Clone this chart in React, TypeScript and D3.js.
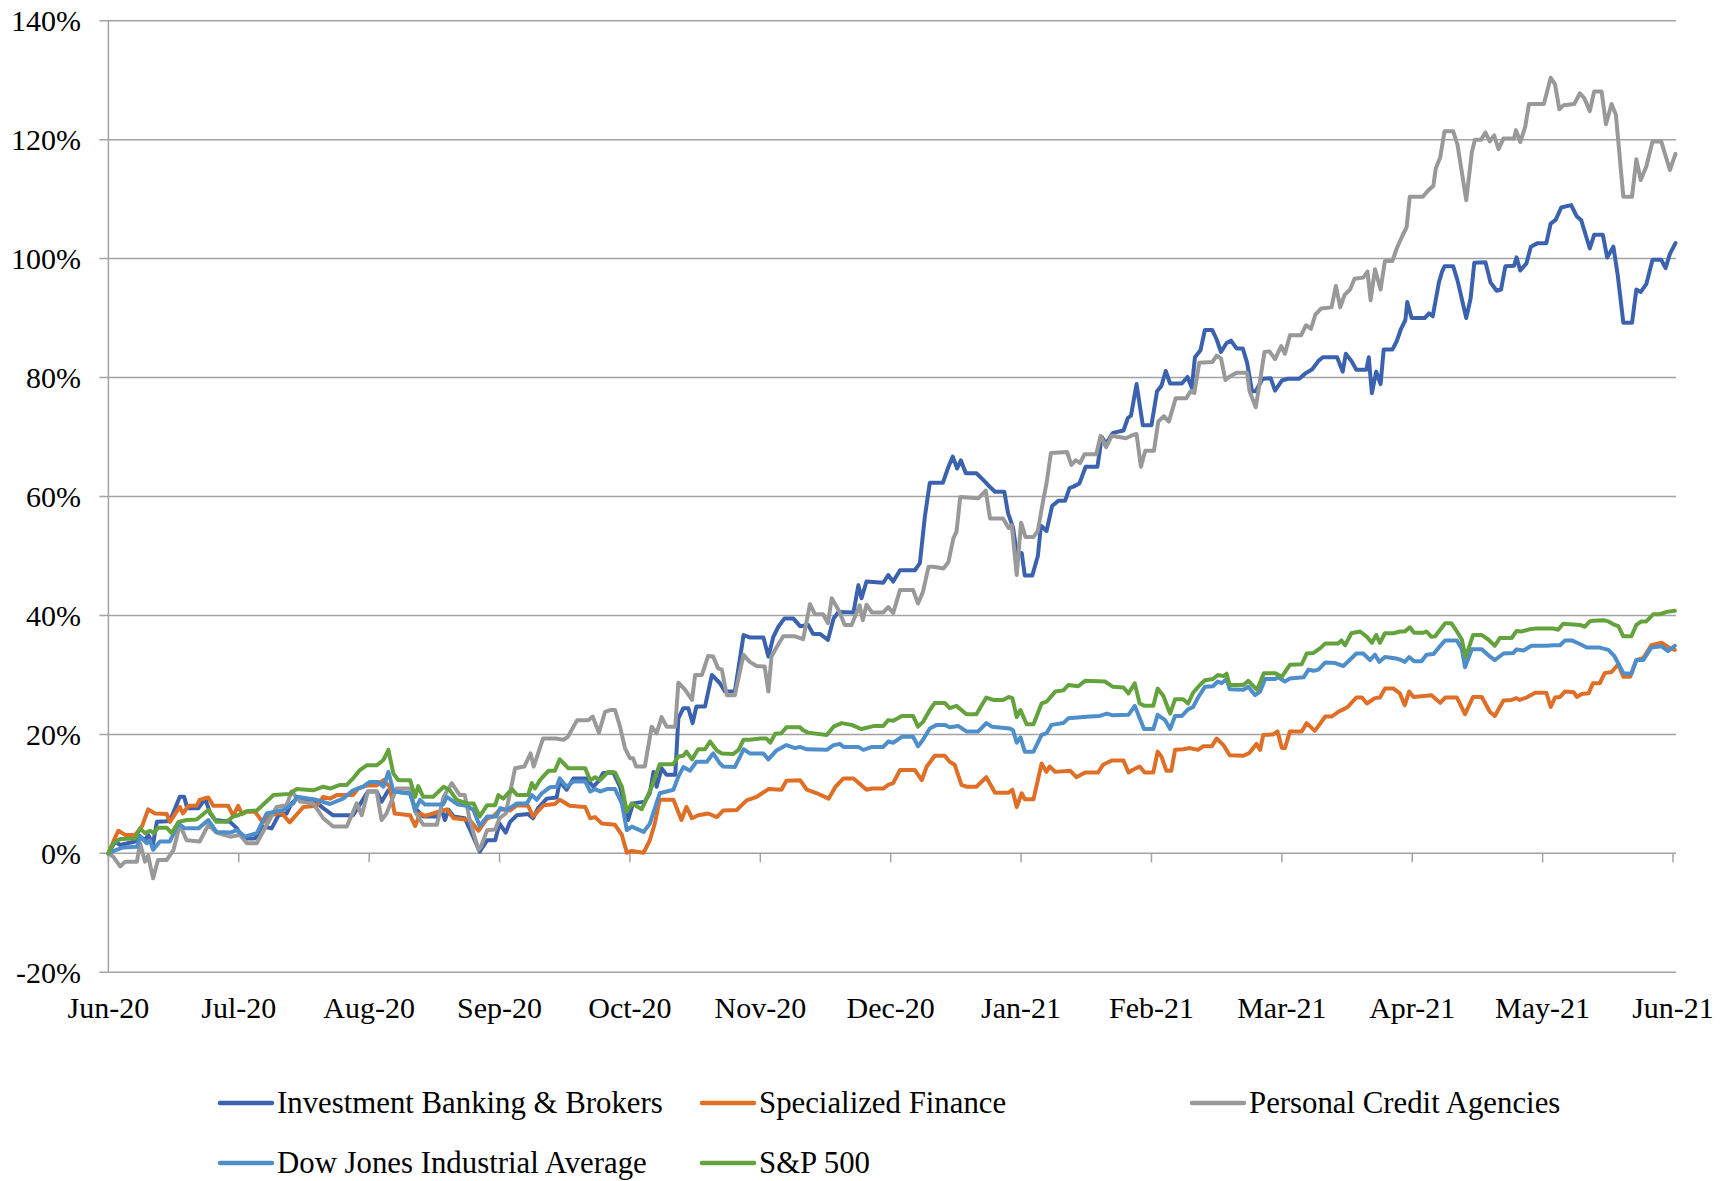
import React from 'react';
import * as d3 from 'd3';

type Pt = [number, number];

// x: trading day since 1-Jun-2020 (252 trading days to 1-Jun-2021), y: cumulative return in %
const monthLabels = ['Jun-20', 'Jul-20', 'Aug-20', 'Sep-20', 'Oct-20', 'Nov-20', 'Dec-20', 'Jan-21', 'Feb-21', 'Mar-21', 'Apr-21', 'May-21', 'Jun-21'];
const yTicks = [-20, 0, 20, 40, 60, 80, 100, 120, 140];
const TOTAL_DAYS = 252;

const investmentBanking: Pt[] = [
  [0,0],[1.1,2.0],[1.9,1.4],[4.3,2.0],[4.8,3.1],[5.9,2.2],[6.4,3.1],[7.2,1.6],[7.8,5.3],[9.4,5.4],[10.2,6.2],[11.5,9.5],[12.2,9.5],[12.7,7.6],[14.5,7.6],[15.6,9.2],[16.4,6.7],[17.2,5.6],[19.6,5.3],[20.7,4.2],[21.5,2.8],[22.3,2.5],[23.6,2.5],[24.9,4.5],[26.3,4.2],[27.4,6.4],[28.7,6.7],[29.5,8.4],[30.3,9.2],[33.0,9.0],[34.6,7.6],[36.2,6.4],[39.4,6.4],[40.8,8.7],[41.8,10.4],[43.2,10.4],[44.0,8.7],[45.1,10.6],[46.1,10.4],[48.6,10.1],[49.4,7.6],[50.7,6.2],[53.1,6.2],[53.7,7.3],[54.2,5.6],[54.8,7.3],[55.6,6.2],[57.4,5.9],[58.5,3.4],[59.8,0.3],
  [61.0,2.2],[62.3,2.2],[63.0,5.0],[64.0,3.5],[64.7,5.3],[65.8,6.4],[67.6,6.6],[68.4,5.9],[69.2,7.6],[70.6,9.2],[72.2,9.4],[72.7,12.1],[73.8,10.7],[74.9,12.6],[77.0,12.6],[78.1,11.2],[78.9,12.1],[79.7,13.5],[81.3,13.6],[82.4,11.2],[83.7,5.6],[84.5,8.4],[86.4,8.7],[87.2,10.1],[87.8,13.7],[88.3,11.2],[89.1,14.3],[89.9,13.2],[91.3,13.2],[91.8,22.7],[92.6,24.4],[93.4,24.4],[94.1,21.9],[94.7,24.7],[96.1,24.7],[97.2,30.0],[98.5,28.6],[99.3,27.2],[100.9,27.2],[102.3,36.7],[103.3,36.3],[105.5,36.3],[106.3,33.1],[107.1,36.4],[107.9,38.1],[108.9,39.5],[110.3,39.5],[111.4,38.2],[112.7,38.4],[113.5,36.9],[114.6,36.9],[115.9,35.9],[116.8,39.5],[117.6,40.6],[120.0,40.5],[120.8,45.1],[121.3,42.9],[122.1,45.7],[124.8,45.5],[125.6,46.8],[126.4,45.7],[127.5,47.6],
  [129.9,47.6],[130.7,48.8],[131.5,56.6],[132.3,62.3],[134.4,62.3],[135.3,65.0],[136.0,66.7],[136.7,64.7],[137.3,66.1],[138.1,63.9],[139.8,63.9],[140.9,62.8],[141.7,61.9],[142.8,60.8],[144.3,60.8],
  [144.9,57.2],[145.7,54.8],[146.3,50.5],[147.1,50.5],[147.6,46.7],[148.8,46.7],[149.7,50.0],[150.2,55.1],[151.1,54.2],[152.0,58.4],[153.0,59.3],[154.1,59.3],[154.8,61.4],[155.5,61.7],[156.4,62.2],[157.4,65.0],[159.3,65.0],[160.0,70.0],[160.7,68.9],[161.8,70.7],[163.5,71.1],[164.2,73.2],[164.7,73.6],[165.6,78.9],[166.6,72.0],[168.0,72.0],[168.9,77.7],[169.6,78.6],[170.3,81.1],[171.0,79.0],[172.9,79.0],[173.8,80.1],[174.5,78.3],[175.0,83.4],[175.9,84.6],[176.6,88.0],[177.8,88.0],[178.5,86.4],[179.2,84.3],[180.1,85.8],[180.8,86.2],[181.7,84.9],[182.7,84.9],[183.4,82.5],[184.2,77.7],[184.8,77.7],[185.9,79.8],[187.2,79.9],[187.9,77.8],[189.0,79.5],[190.0,79.8],[191.8,79.8],[192.8,80.7],[193.9,81.4],[194.9,82.8],[195.6,83.4],[197.9,83.4],[198.8,81.0],[199.3,84.0],[200.2,82.8],[201.0,81.3],[202.6,81.3],[203.0,83.4],[203.5,77.4],[204.2,81.0],[204.9,78.9],[205.4,84.7],[206.8,84.7],[207.5,86.1],[208.2,88.2],[208.9,89.7],[209.2,92.7],[209.9,90.0],[212.0,90.0],[212.7,90.8],[213.3,90.3],[214.3,96.0],[214.8,97.8],[215.2,98.7],[216.6,98.7],[217.3,96.3],[218.7,90.0],[219.4,93.3],[220.0,99.3],[221.8,99.4],[222.6,96.0],[223.6,94.6],[224.3,94.8],[225.0,98.7],[226.4,98.8],[226.8,100.2],[227.4,98.0],[228.4,99.2],[229.1,102.0],[230.2,102.6],[231.6,102.6],[232.3,105.9],[233.1,106.5],[234.0,108.6],[235.6,109.0],[236.5,107.1],[237.2,106.5],[238.6,101.7],[239.3,104.0],[240.7,104.0],[241.4,100.2],[242.4,102.0],[243.1,97.2],[244.0,89.2],[245.4,89.2],[246.1,94.8],[246.8,94.4],[247.7,95.7],[248.7,99.8],[250.1,99.8],[250.8,98.4],[251.5,100.8],[252.4,102.6],
];

const specializedFinance: Pt[] = [
  [0,0],[0.8,2.0],[1.6,3.8],[2.7,3.1],[4.3,3.1],[5.4,4.5],[6.4,7.4],[7.5,6.7],[9.4,6.6],[9.9,5.3],[11.5,7.8],[12.0,6.7],[12.9,8.0],[14.2,8.0],[14.7,9.0],[16.1,9.4],[16.9,8.0],[19.3,8.0],[20.1,6.3],[20.9,8.0],[21.5,6.6],[22.3,7.0],[23.6,7.0],[24.9,5.2],[26.0,6.4],[27.9,6.8],[29.2,5.2],[31.4,7.8],[33.5,8.0],[34.6,9.5],[35.7,9.2],[36.8,9.8],[39.4,9.8],[40.2,10.9],[41.6,11.4],[43.2,11.4],[44.3,12.3],[45.3,11.2],[46.1,6.7],[48.6,6.4],[49.4,4.6],[50.2,6.7],[51.0,6.3],[52.3,6.7],[54.5,7.4],[55.6,5.9],[58.2,5.6],[59.6,3.8],
  [61.0,5.9],[62.0,6.2],[63.1,7.4],[64.7,7.2],[65.8,8.1],[67.6,8.0],[68.4,6.2],[70.1,8.1],[71.9,8.3],[72.7,9.0],[74.3,8.0],[76.8,7.8],[77.6,5.9],[78.4,6.1],[79.5,5.0],[81.6,4.8],[82.7,3.1],[83.5,0.1],[84.3,0.4],[86.2,0.1],[87.2,2.2],[88.0,5.0],[88.8,9.0],[91.0,9.0],[92.3,5.6],[93.1,7.8],[94.0,5.9],[95.0,6.4],[96.6,6.7],[98.0,6.1],[99.0,7.2],[101.2,7.3],[102.8,8.9],[104.4,9.5],[106.3,10.8],[108.4,10.7],[109.2,12.2],[111.4,12.3],[112.5,10.7],[114.1,10.1],[116.0,9.2],[117.1,11.2],[118.4,12.6],[120.0,12.6],[121.0,11.7],
  [122.1,10.7],[123.0,10.9],[124.8,10.9],[125.6,11.5],[126.4,11.8],[127.5,14.0],[129.9,14.0],[131.0,12.3],[131.8,14.6],[133.1,16.4],[134.7,16.4],[135.5,15.4],[136.3,14.9],[137.4,11.5],[138.2,11.2],[139.8,11.2],[141.4,12.8],[142.8,10.2],[145.0,10.2],[145.6,10.7],[146.3,7.8],[147.1,10.1],[147.6,9.1],[149.0,9.1],[150.3,15.1],[151.1,13.7],[151.6,14.6],[152.5,13.7],[154.9,13.9],[155.9,12.8],[157.3,13.6],[159.4,13.6],[160.2,14.9],[161.6,15.6],[163.5,15.6],[164.3,13.6],[165.1,14.1],[166.1,14.6],[166.9,13.6],[168.3,13.6],[169.0,17.1],[169.6,16.3],[170.4,13.9],[171.2,13.9],[171.8,17.4],[173.1,17.5],[174.2,17.7],[175.5,17.4],[176.3,18.0],[177.7,18.0],[178.5,19.3],[179.6,18.2],[180.6,16.5],[182.8,16.4],[183.8,16.9],[184.9,18.4],[185.5,17.4],
  [186.0,19.9],[187.6,20.0],[188.3,20.5],[189.0,17.7],[189.5,17.7],[190.3,20.5],[192.2,20.5],[193.0,21.9],[194.3,20.6],[196.0,23.0],[197.0,23.0],[198.1,23.8],[198.9,24.2],[199.7,24.7],[201.0,26.2],[201.9,26.2],[202.7,25.2],[204.0,26.1],[204.8,26.2],[205.6,27.7],[207.0,27.7],[208.0,26.9],[208.8,24.9],[209.5,27.2],[210.2,26.3],[212.3,26.5],[213.1,26.6],[214.5,25.3],[215.3,26.2],[217.2,26.2],[218.5,23.4],[219.8,26.3],[221.2,26.3],[222.5,23.8],[223.3,23.1],[224.7,25.7],[226.0,25.8],[226.8,26.1],[227.3,25.8],[228.4,26.2],[229.8,27.0],[231.6,27.0],[232.3,24.6],[233.0,26.2],[233.8,26.3],[234.6,27.2],[236.0,27.1],[236.5,26.3],[237.3,26.8],[238.4,26.9],[239.1,28.6],[240.2,28.6],[241.0,30.3],[242.1,30.5],[243.2,31.8],[244.0,29.7],[245.1,29.7],[246.1,32.5],[247.2,32.8],[248.5,35.0],[250.2,35.4],[251.5,34.5],[252.3,34.2],
];

const personalCredit: Pt[] = [
  [0,0],[0.8,-0.6],[1.9,-2.2],[2.7,-1.4],[4.6,-1.4],[5.1,1.7],[5.9,-1.4],[6.4,-0.4],[7.2,-4.2],[8.0,-1.1],[9.4,-1.1],[10.5,0.6],[11.5,4.8],[12.6,2.2],[14.7,2.0],[16.1,4.8],[17.4,3.5],[19.6,2.8],[21.2,3.1],[22.3,1.7],[23.9,1.7],[25.5,4.8],[27.1,7.8],[28.7,8.1],[29.5,10.4],[30.9,8.7],[33.0,8.4],[34.6,5.9],[36.2,4.5],[38.4,4.5],[40.0,8.4],[40.8,6.4],[41.8,10.4],[43.2,10.4],[44.0,5.6],[44.8,6.7],[46.4,10.9],[48.6,10.9],[49.4,7.0],[50.7,4.8],[52.9,4.8],[54.0,9.5],[55.3,11.8],[56.6,9.8],[57.4,9.8],[58.2,5.6],[59.6,0.6],
  [60.0,1.1],[61.0,3.9],[62.3,4.0],[63.0,5.9],[64.0,6.7],[65.5,14.3],[67.0,14.6],[68.0,16.8],[68.5,14.6],[70.0,19.3],[72.0,19.3],[73.3,19.1],[74.0,19.6],[75.5,22.4],[77.3,22.4],[78.0,23.0],[79.0,20.3],[80.0,23.8],[80.8,24.1],[81.6,24.1],[82.4,21.3],[83.2,17.7],[84.0,16.0],[84.5,16.0],[85.0,14.6],[86.4,14.6],[87.5,21.3],[88.3,20.2],[89.1,22.9],[89.9,21.3],[91.3,21.3],[91.8,28.7],[92.9,27.5],[94.0,25.8],[94.5,30.0],[95.6,30.0],[96.6,33.2],[97.4,33.1],[98.2,31.1],[98.8,30.9],[99.6,26.6],[100.9,26.6],[102.3,33.4],[103.3,32.2],[104.4,31.5],[105.7,31.4],[106.3,27.2],[106.8,33.1],[107.6,34.6],[108.7,36.5],[110.6,36.5],[111.9,36.0],[113.0,41.9],[113.8,40.2],[115.1,40.2],[115.9,38.7],[116.5,42.9],[117.6,40.9],[118.6,38.4],[119.7,38.4],[121.0,41.7],[121.5,39.2],[122.1,41.8],[123.0,40.5],[124.8,40.5],[125.6,41.4],[126.4,40.4],[127.5,44.3],
  [129.6,44.3],[130.4,42.0],[131.2,44.0],[132.1,48.2],[132.9,48.2],[134.5,47.9],[135.3,49.0],[136.1,53.0],[136.6,54.1],[137.2,59.9],[140.1,59.7],[141.3,61.0],[142.0,56.3],[144.1,56.3],[145.0,54.7],[145.5,55.2],[146.3,46.8],[147.0,55.6],[147.7,53.2],[149.0,53.2],[149.7,54.2],[150.6,59.6],[151.1,62.2],[151.8,67.3],[154.4,67.5],[155.1,65.3],[155.8,66.1],[156.5,65.6],[157.2,67.1],[159.1,67.1],[159.8,70.2],[160.7,68.3],[161.6,70.2],[163.9,69.8],[164.9,70.3],[165.6,70.5],[166.3,65.0],[167.0,67.7],[168.4,67.7],[169.1,72.6],[170.0,73.5],[170.8,72.6],[171.9,76.5],[173.6,76.5],[174.3,77.7],[174.9,77.4],[175.7,82.5],[177.8,82.6],[178.5,83.7],[179.2,83.2],[179.9,79.6],[180.5,80.1],[181.7,80.8],[183.4,80.8],[183.8,77.7],[184.8,75.0],[185.4,78.9],[186.2,84.3],[187.0,84.4],[187.9,83.1],[188.9,85.3],[189.5,84.0],[190.3,87.1],[192.1,87.1],[192.9,88.8],[193.7,88.2],[194.4,90.6],[195.3,91.6],[197.0,91.8],[197.7,95.4],[198.4,91.8],[199.1,93.9],[200.0,94.8],[200.7,96.6],[202.1,96.8],[202.8,97.8],[203.3,93.0],[204.0,98.2],[204.9,94.8],[205.6,99.6],[206.8,99.6],[207.5,101.7],[208.4,103.8],[209.1,105.3],[209.6,110.4],[211.7,110.4],[212.7,111.6],[213.4,112.2],[213.8,115.2],[214.5,117.0],[215.2,121.4],[216.6,121.4],[217.3,119.1],[218.7,109.8],[219.6,117.9],[220.1,120.0],[221.1,120.0],[221.8,121.2],[222.5,119.7],[223.2,120.7],[223.9,118.4],[224.7,120.2],[226.4,120.2],[226.7,121.6],[227.4,119.6],[228.2,122.2],[228.8,126.0],[231.2,126.0],[232.3,130.4],[233.0,129.3],[233.7,125.1],[234.4,125.8],[236.1,126.0],[237.0,127.8],[237.7,127.0],[238.6,124.8],[239.3,128.1],[240.5,128.1],[241.2,122.6],[242.1,126.0],[242.8,124.2],[244.0,110.4],[245.4,110.4],[246.1,116.7],[246.8,113.2],[247.7,115.5],[248.7,119.7],[250.1,119.7],[251.5,114.9],[252.4,117.6],
];

const dowJones: Pt[] = [
  [0,0],[1.3,0.6],[2.4,1.0],[4.6,1.1],[5.1,2.8],[6.2,1.7],[6.7,2.2],[7.2,0.6],[8.3,2.0],[9.9,2.0],[11.3,5.0],[12.3,4.2],[14.5,4.2],[16.1,5.6],[17.4,3.6],[19.6,3.5],[20.7,3.9],[22.0,2.8],[23.9,3.4],[25.5,6.7],[28.2,7.3],[29.8,8.4],[30.3,9.5],[33.5,9.0],[35.7,8.3],[37.8,9.2],[39.4,10.6],[41.0,11.2],[42.1,12.0],[43.5,12.0],[44.3,11.2],[45.1,13.7],[45.9,10.4],[48.6,10.0],[49.4,7.3],[50.2,9.0],[51.0,8.2],[53.9,8.2],[54.5,9.5],[56.3,8.2],[57.7,8.0],[58.8,7.3],[59.8,4.6],
  [61.0,6.2],[62.5,6.2],[63.1,7.6],[64.2,7.3],[65.8,8.4],[67.4,8.4],[68.2,9.8],[69.0,9.0],[69.8,10.1],[71.1,11.1],[72.2,11.2],[72.7,12.6],[73.8,11.2],[74.9,12.1],[76.8,12.1],[77.6,10.4],[78.4,10.8],[79.2,10.4],[80.3,10.8],[81.6,10.8],[82.7,8.4],[83.5,3.9],[84.3,4.5],[86.2,3.6],[87.2,5.0],[88.8,10.1],[91.0,10.7],[91.8,12.9],[92.6,14.5],[93.7,13.9],[94.7,15.4],[96.4,15.4],[97.4,16.8],[98.5,15.1],[99.0,14.6],[100.9,14.5],[102.3,17.5],[103.3,16.8],[105.5,16.8],[106.3,15.8],[107.6,17.3],[109.2,18.2],[110.6,17.7],[111.4,17.9],[112.5,17.5],[115.7,17.4],[116.8,18.2],[117.8,18.4],[118.4,17.9],[120.8,17.9],[121.6,17.4],
  [123.0,17.9],[124.8,17.9],[125.6,18.8],[126.4,18.6],[127.8,19.6],[129.6,19.6],[130.4,18.0],[131.2,19.1],[132.3,21.0],[133.4,21.6],[134.7,21.6],[135.5,21.2],[136.9,21.4],[138.2,20.5],[140.1,20.5],[141.4,21.9],[142.3,21.3],[145.2,21.0],[145.7,20.7],[146.3,18.6],[146.9,19.5],[147.6,17.1],[149.0,17.1],[150.3,19.9],[151.1,20.2],[151.9,21.6],[153.8,21.9],[154.6,22.7],[158.1,23.0],[159.7,23.1],[160.8,23.5],[161.8,23.2],[164.3,23.3],[165.3,24.8],[166.8,20.9],[168.3,20.9],[169.0,23.3],[170.2,22.4],[171.0,20.9],[171.8,23.1],[172.9,23.1],[173.9,24.2],[174.7,24.6],[175.5,26.2],[176.6,28.0],[177.9,28.1],[178.7,28.9],[179.3,28.6],[180.1,29.3],[180.6,27.6],[182.8,27.5],[183.6,28.0],[184.7,26.6],[185.5,27.2],
  [186.3,29.3],[187.9,29.3],[188.4,29.6],[189.5,28.9],[190.3,29.4],[192.5,29.6],[193.3,30.9],[194.1,30.7],[194.9,30.9],[196.0,32.1],[197.6,32.0],[198.9,31.5],[200.0,32.6],[201.0,33.6],[202.1,33.6],[203.2,32.5],[204.0,33.4],[204.7,32.2],[205.6,33.0],[207.2,32.8],[208.0,32.6],[208.8,32.2],[209.5,33.0],[210.3,32.3],[211.5,32.3],[212.3,33.4],[213.4,33.5],[214.2,34.5],[215.3,35.8],[217.2,35.8],[218.0,34.3],[218.5,31.3],[219.6,34.3],[221.2,34.3],[222.5,33.1],[223.3,32.5],[224.7,33.6],[226.3,33.7],[226.8,34.3],[227.9,34.1],[229.2,34.9],[231.6,34.9],[232.7,35.0],[233.8,35.0],[234.6,35.8],[235.7,35.8],[237.0,35.2],[238.1,34.6],[240.2,34.6],[241.6,34.2],[242.6,33.1],[244.0,30.3],[245.3,30.2],[246.1,32.5],[247.2,32.5],[248.5,34.6],[250.2,34.8],[251.2,34.0],[252.3,34.9],
];

const sp500: Pt[] = [
  [0,0],[0.8,1.7],[1.9,2.4],[4.3,2.5],[5.1,4.2],[5.9,3.4],[6.7,3.8],[7.3,3.4],[8.0,4.3],[9.4,4.3],[10.2,3.4],[11.3,5.3],[12.6,5.6],[14.2,5.7],[16.1,7.3],[17.4,5.3],[19.0,5.3],[20.1,6.2],[20.9,6.4],[22.3,7.1],[23.9,7.2],[26.6,9.8],[29.2,10.0],[30.3,10.8],[33.0,10.6],[34.6,11.2],[35.7,10.9],[37.3,11.5],[38.4,11.5],[39.4,12.6],[40.5,14.0],[41.6,14.8],[43.2,14.8],[44.3,15.7],[45.1,17.4],[45.9,13.4],[46.7,12.3],[48.6,12.3],[49.4,9.5],[49.9,11.3],[50.7,9.5],[52.3,9.5],[54.0,11.2],[55.0,10.6],[56.1,9.0],[57.7,8.4],[58.8,8.4],[59.8,6.2],
  [61.0,8.1],[62.3,8.1],[62.8,9.8],[63.6,9.2],[65.0,10.8],[65.8,9.8],[67.6,9.8],[68.2,11.8],[68.7,10.9],[69.5,12.3],[70.9,13.9],[71.9,13.9],[72.7,15.8],[74.1,14.3],[76.8,14.3],[77.6,12.3],[78.4,12.8],[79.2,12.3],[80.5,13.7],[81.6,13.6],[82.7,11.2],[83.5,7.0],[84.3,8.4],[85.9,7.4],[87.5,11.2],[88.8,15.0],[91.0,15.0],[91.8,16.3],[92.6,16.4],[93.1,17.1],[94.0,15.8],[95.0,17.5],[96.1,17.5],[96.9,18.8],[98.0,17.3],[98.8,16.8],[100.6,16.7],[101.5,17.4],[102.3,19.1],[103.3,19.1],[105.0,19.3],[106.0,19.3],[106.6,18.6],[107.4,20.1],[108.4,20.2],[109.2,21.2],[111.4,21.2],[111.9,20.7],[112.7,20.3],[115.7,19.9],[116.8,21.3],[118.1,21.9],[119.7,21.6],[121.3,20.9],
  [123.2,21.4],[124.8,21.4],[125.6,22.4],[126.4,22.3],[127.8,23.1],[129.6,23.1],[130.4,21.3],[131.2,22.1],[132.3,24.1],[133.1,25.3],[134.7,25.3],[135.5,24.4],[136.6,24.8],[138.2,23.4],[139.8,23.4],[141.4,26.2],[142.5,25.8],[144.1,25.8],[145.0,26.3],[145.6,26.1],[146.3,22.9],[146.9,24.1],[147.9,21.7],[149.0,21.7],[150.3,25.2],[151.1,25.5],[152.5,27.2],[153.8,27.4],[154.6,28.3],[156.2,28.1],[157.3,29.0],[160.5,28.9],[161.8,28.0],[163.5,27.9],[164.3,26.9],[165.3,28.6],[166.1,25.2],[166.9,24.8],[168.3,24.8],[169.0,27.7],[169.9,26.5],[171.0,23.5],[171.8,25.9],[173.1,25.9],[173.9,25.2],[174.7,27.0],[175.8,28.3],[176.6,29.1],[177.9,29.3],[178.7,30.0],[179.6,29.8],[180.1,30.2],[180.6,28.3],[182.8,28.3],[183.6,29.0],[185.0,27.5],
  [186.1,30.3],[187.9,30.3],[189.0,29.7],[190.3,31.7],[192.2,31.8],[193.0,33.6],[194.1,33.7],[195.2,34.5],[196.0,35.3],[198.1,35.3],[198.6,35.8],[199.2,35.0],[200.2,37.0],[201.6,37.3],[202.7,36.4],[203.5,35.4],[204.2,36.7],[204.8,35.4],[205.6,37.0],[207.0,37.0],[208.0,37.3],[208.8,37.3],[209.6,38.0],[210.3,37.1],[211.8,37.1],[212.3,37.3],[213.1,36.4],[213.7,36.5],[214.5,37.6],[215.3,38.7],[216.3,38.7],[217.2,37.3],[218.0,35.9],[218.6,33.0],[219.8,36.7],[221.2,36.7],[222.2,36.0],[223.3,34.9],[224.1,36.2],[226.0,36.2],[226.8,37.4],[227.6,37.3],[229.0,37.7],[230.0,37.8],[232.7,37.8],[233.5,37.6],[234.3,38.6],[237.0,38.4],[237.8,38.1],[238.6,39.0],[239.1,39.1],[240.8,39.2],[241.6,39.0],[242.6,38.4],[243.2,38.2],[244.0,36.5],[245.3,36.5],[246.1,38.4],[246.9,39.0],[247.7,39.0],[248.8,40.2],[249.9,40.2],[251.0,40.6],[252.3,40.8],
];

const seriesNames = ['Investment Banking & Brokers', 'Specialized Finance', 'Personal Credit Agencies', 'Dow Jones Industrial Average', 'S&P 500'];
const seriesColors = ['#3A62AE', '#DF6E27', '#999999', '#4E8FCB', '#64A23D'];
const seriesData = [investmentBanking, specializedFinance, personalCredit, dowJones, sp500];

const FONT = "'Liberation Serif', 'Times New Roman', serif";

export default function App() {
  const W = 1728;
  const H = 1181;
  const left = 108.4;
  const right = 1673;
  const x = d3.scaleLinear().domain([0, TOTAL_DAYS]).range([left, right]);
  const y = d3.scaleLinear().domain([-20, 140]).range([972.3, 20.7]);
  const line = d3.line<Pt>().x((d) => x(d[0])).y((d) => y(d[1]));
  const monthStep = TOTAL_DAYS / (monthLabels.length - 1);
  const gridColor = '#A3A3A3';

  const legendItems = [
    { i: 0, lx: 220, ly: 1103 },
    { i: 1, lx: 702, ly: 1103 },
    { i: 2, lx: 1192, ly: 1103 },
    { i: 3, lx: 220, ly: 1163 },
    { i: 4, lx: 702, ly: 1163 },
  ];

  return (
    <svg width={W} height={H} style={{ position: 'absolute', left: 0, top: 0, background: '#fff' }} fontFamily={FONT}>
      <rect x={0} y={0} width={W} height={H} fill="#fff" />
      {yTicks.map((t) => (
        <g key={t}>
          <line x1={left - 9} x2={right + 3} y1={y(t)} y2={y(t)} stroke={gridColor} strokeWidth={1.5} />
          <text x={81} y={y(t)} dy="0.35em" textAnchor="end" fontSize={30} fill="#000">{`${t}%`}</text>
        </g>
      ))}
      <line x1={left} x2={left} y1={y(140)} y2={y(-20)} stroke={gridColor} strokeWidth={1.5} />
      {monthLabels.map((m, i) => (
        <g key={m}>
          <line x1={x(i * monthStep)} x2={x(i * monthStep)} y1={y(0)} y2={y(0) + 9} stroke={gridColor} strokeWidth={1.5} />
          <text x={x(i * monthStep)} y={1007} dy="0.35em" textAnchor="middle" fontSize={30} fill="#000">{m}</text>
        </g>
      ))}
      {seriesData.map((d, i) => (
        <path key={seriesNames[i]} d={line(d) || ''} fill="none" stroke={seriesColors[i]} strokeWidth={4} strokeLinejoin="round" strokeLinecap="round" />
      ))}
      {legendItems.map(({ i, lx, ly }) => (
        <g key={seriesNames[i]}>
          <line x1={lx} x2={lx + 52} y1={ly} y2={ly} stroke={seriesColors[i]} strokeWidth={4.5} strokeLinecap="round" />
          <text x={lx + 57} y={ly} dy="0.33em" fontSize={30.8} fill="#000">{seriesNames[i]}</text>
        </g>
      ))}
    </svg>
  );
}
